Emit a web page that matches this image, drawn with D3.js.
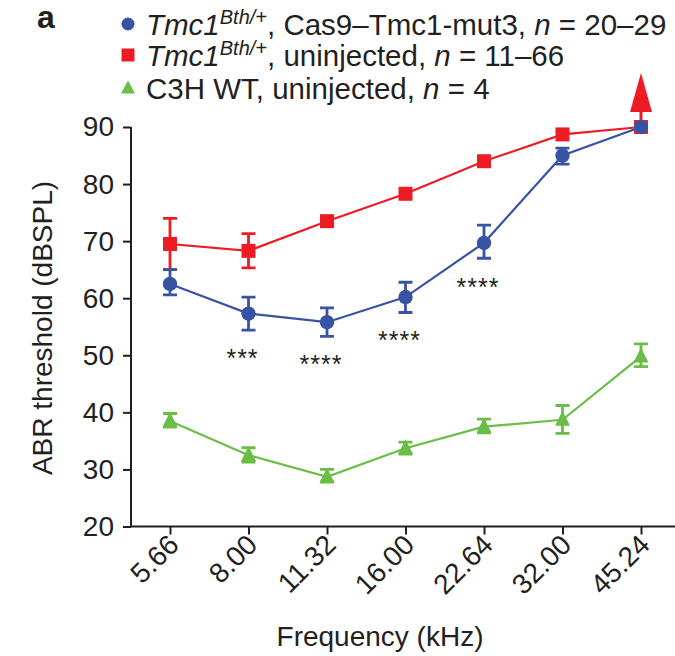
<!DOCTYPE html>
<html><head><meta charset="utf-8">
<script src="https://cdn.jsdelivr.net/npm/d3@7"></script>
<style>body{margin:0;background:#fff}svg{display:block;font-family:"Liberation Sans",Arial,sans-serif}</style>
</head><body>
<svg id="c" width="675" height="656"></svg>
<script>
const categories = ["5.66","8.00","11.32","16.00","22.64","32.00","45.24"];
const blueMean = [62.5, 57.3, 55.8, 60.2, 69.7, 85.0, 90.0];
const blueLow  = [60.6, 54.4, 53.3, 57.5, 67.0, 83.5, 90.0];
const blueHigh = [65.0, 60.2, 58.3, 62.8, 72.8, 86.3, 90.0];
const redMean = [69.5, 68.3, 73.5, 78.3, 84.0, 88.7, 90.0];
const redLow  = [65.0, 65.3, 73.5, 78.3, 84.0, 88.7, 90.0];
const redHigh = [74.0, 71.3, 73.5, 78.3, 84.0, 88.7, 90.0];
const greenMean = [38.5, 32.5, 28.7, 33.7, 37.5, 38.7, 49.8];
const greenLow  = [37.4, 31.3, 27.8, 32.7, 36.4, 36.3, 48.0];
const greenHigh = [39.8, 33.8, 30.0, 34.8, 38.8, 41.2, 52.0];
const yTicks = [20,30,40,50,60,70,80,90];
const stars = [null,"***","****","****","****",null,null];
const starValues = [null, 50.6, 49.6, 53.7, 63.0, null, null];

const svg = d3.select("#c");
const x = d3.scalePoint().domain(categories).range([170, 641]);
const y = d3.scaleLinear().domain([20, 90]).range([526.5, 127]);

const blue = "#3953a4", red = "#ed1c24", green = "#6abd45", ink = "#231f20";
const FONT = "Liberation Sans, Arial, sans-serif";

// axes
const gy = svg.append("g").attr("transform","translate(131,0)")
  .call(d3.axisLeft(y).tickValues(yTicks).tickSize(8).tickSizeOuter(0).tickPadding(9));
gy.select(".domain").attr("stroke", ink).attr("stroke-width",2).attr("d","M0,127V526.5");
gy.selectAll(".tick line").attr("stroke", ink).attr("stroke-width",2);
gy.selectAll(".tick text").attr("fill", ink).attr("font-size",28).attr("font-family",FONT);

const gx = svg.append("g").attr("transform","translate(0,526.5)")
  .call(d3.axisBottom(x).tickSize(8).tickSizeOuter(0));
gx.select(".domain").attr("stroke", ink).attr("stroke-width",2).attr("d","M130,0H675");
gx.selectAll(".tick line").attr("stroke", ink).attr("stroke-width",2);
gx.selectAll(".tick text").attr("fill", ink).attr("font-size",28)
  .attr("font-family",FONT)
  .attr("text-anchor","end").attr("dy",0).attr("y",0)
  .attr("transform","translate(10,20) rotate(-45)");

svg.append("text").attr("x",380).attr("y",646).attr("text-anchor","middle")
  .attr("font-size",28).attr("fill",ink).text("Frequency (kHz)");
svg.append("text").attr("transform","translate(52,328) rotate(-90)").attr("text-anchor","middle")
  .attr("font-size",28).attr("fill",ink).text("ABR threshold (dBSPL)");

// arrow above red last point
const ax = x(categories[6]);
svg.append("line").attr("x1",ax).attr("x2",ax).attr("y1",y(90)).attr("y2",y(90)-16)
  .attr("stroke",red).attr("stroke-width",3);
svg.append("path").attr("fill",red)
  .attr("d",`M${ax},${y(90)-54}L${ax+11},${y(90)-15}L${ax-11},${y(90)-15}Z`);

function series(mean, low, high, color, shape){
  const g = svg.append("g");
  const line = d3.line().x((d,i)=>x(categories[i])).y(d=>y(d));
  g.append("path").attr("d", line(mean)).attr("fill","none").attr("stroke",color).attr("stroke-width",2.2);
  categories.forEach((c,i)=>{
    if (high[i]-low[i] > 0.01){
      const cx = x(c);
      g.append("path").attr("stroke",color).attr("stroke-width",2.8).attr("fill","none")
        .attr("d",`M${cx},${y(low[i])}V${y(high[i])}M${cx-7},${y(low[i])}H${cx+7}M${cx-7},${y(high[i])}H${cx+7}`);
    }
  });
  categories.forEach((c,i)=>{
    const cx = x(c), cy = y(mean[i]);
    if (shape==="circle") g.append("circle").attr("cx",cx).attr("cy",cy).attr("r",7.2).attr("fill",color);
    else if (shape==="square") g.append("rect").attr("x",cx-7).attr("y",cy-7).attr("width",14).attr("height",14).attr("fill",color);
    else g.append("path").attr("fill",color).attr("d",`M${cx},${cy-9}L${cx+7.5},${cy+6}L${cx-7.5},${cy+6}Z`);
  });
}
series(greenMean, greenLow, greenHigh, green, "tri");
series(redMean, redLow, redHigh, red, "square");
series(blueMean, blueLow, blueHigh, blue, "circle");

// significance stars
categories.forEach((c,i)=>{
  if (stars[i]) svg.append("text").attr("x",x(c)-6).attr("y",y(starValues[i])+15)
    .attr("text-anchor","middle").attr("font-size",25).attr("fill",ink).attr("letter-spacing",1).text(stars[i]);
});

// panel letter
svg.append("text").attr("x",37).attr("y",28).attr("font-size",32).attr("font-weight","bold").attr("fill",ink).text("a");

// legend
const leg = svg.append("g");
const legY = [24, 55, 88];
leg.append("circle").attr("cx",128).attr("cy",legY[0]).attr("r",6.5).attr("fill",blue);
leg.append("rect").attr("x",121.5).attr("y",legY[1]-6.5).attr("width",13).attr("height",13).attr("fill",red);
leg.append("path").attr("fill",green).attr("d",`M128,${legY[2]-7.5}L135,${legY[2]+5.5}L121,${legY[2]+5.5}Z`);

function legText(yy, parts){
  const t = leg.append("text").attr("x",146).attr("y",yy+11).attr("font-size",29.5).attr("fill",ink);
  parts.forEach(p=>{
    const ts = t.append("tspan").text(p.t);
    if (p.i) ts.attr("font-style","italic");
    if (p.sup) ts.attr("font-size",20).attr("baseline-shift","11");
  });
}
legText(legY[0], [{t:"Tmc1",i:true},{t:"Bth/+",i:true,sup:true},{t:", Cas9–Tmc1-mut3, "},{t:"n",i:true},{t:" = 20–29"}]);
legText(legY[1], [{t:"Tmc1",i:true},{t:"Bth/+",i:true,sup:true},{t:", uninjected, "},{t:"n",i:true},{t:" = 11–66"}]);
legText(legY[2], [{t:"C3H WT, uninjected, "},{t:"n",i:true},{t:" = 4"}]);
</script>
</body></html>
